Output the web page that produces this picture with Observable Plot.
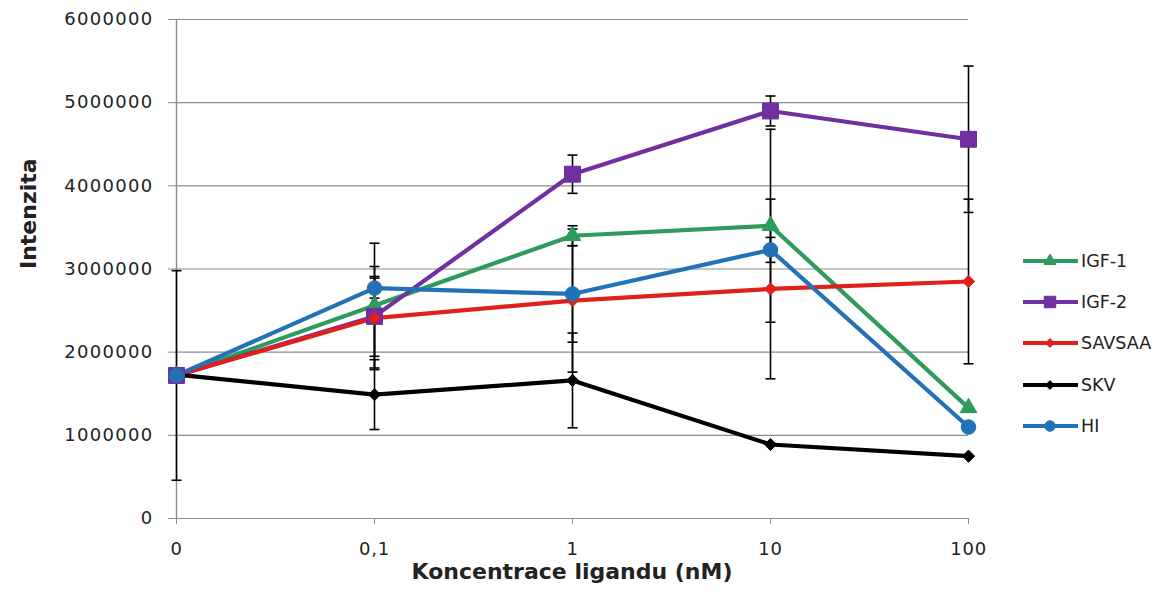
<!DOCTYPE html>
<html>
<head>
<meta charset="utf-8">
<script src="https://cdn.jsdelivr.net/npm/d3@7"></script>
<script src="https://cdn.jsdelivr.net/npm/@observablehq/plot@0.6"></script>
<style>
  html, body { margin: 0; padding: 0; background: #fff; }
  #wrap { position: relative; width: 1166px; height: 596px; overflow: hidden; }
  #legend { position: absolute; left: 1022px; top: 240px; font-family: "DejaVu Sans", sans-serif; font-size: 17.5px; color: #222; }
  .item { display: flex; align-items: center; height: 41.4px; }
  .item svg { display: block; margin-right: 1px; }
  g[aria-label="y-axis tick label"] text { letter-spacing: 1.3px; }
  g[aria-label="x-axis tick label"] text { letter-spacing: 0.8px; }
</style>
</head>
<body>
<div id="wrap"><div id="legend"></div></div>
<script>
const categories = ["0", "0,1", "1", "10", "100"];
const seriesNames = ["IGF-1", "IGF-2", "SAVSAA", "SKV", "HI"];
const seriesColors = ["#2e9b5c", "#7030a0", "#e0201b", "#000000", "#2372b8"];
const seriesSymbols = ["triangle", "square", "diamond2", "diamond2", "circle"];
const seriesR = [6.2, 9, 5.5, 5.5, 7.3];

const igf1 = [1720000, 2560000, 3400000, 3520000, 1330000];
const igf2 = [1720000, 2430000, 4140000, 4900000, 4560000];
const savsaa = [1720000, 2410000, 2620000, 2760000, 2850000];
const skv = [1730000, 1490000, 1660000, 890000, 750000];
const hi = [1720000, 2770000, 2700000, 3230000, 1100000];

const igf1Err = [0, 750000, 120000, 1160000, 0];
const igf2Err = [0, 480000, 230000, 180000, 880000];
const savsaaErr = [1260000, 620000, 860000, 1080000, 990000];
const skvErr = [0, 420000, 570000, 0, 0];
const hiErr = [0, 120000, 580000, 150000, 0];

const yTicks = [0, 1000000, 2000000, 3000000, 4000000, 5000000, 6000000];

const seriesValues = [igf1, igf2, savsaa, skv, hi];
const seriesErrs = [igf1Err, igf2Err, savsaaErr, skvErr, hiErr];

const rows = seriesNames.flatMap((name, s) =>
  categories.map((cat, i) => ({series: name, cat, value: seriesValues[s][i], err: seriesErrs[s][i]})));
const errRows = rows.filter(d => d.err > 0);
const caps = errRows.flatMap(d => [
  {cat: d.cat, y: d.value - d.err},
  {cat: d.cat, y: d.value + d.err}
]);

const capSymbol = {
  draw(ctx, size) {
    const w = Math.sqrt(size / Math.PI);
    ctx.moveTo(-w, 0);
    ctx.lineTo(w, 0);
  }
};

const font = "DejaVu Sans, sans-serif";

const chart = Plot.plot({
  width: 1166,
  height: 596,
  marginLeft: 175,
  marginRight: 198,
  marginTop: 19,
  marginBottom: 78,
  style: {fontFamily: font, fontSize: "18px", color: "#222", background: "transparent"},
  x: {type: "point", domain: categories, padding: 0, label: null},
  y: {domain: [0, 6000000], label: null},
  color: {domain: seriesNames, range: seriesColors},
  marks: [
    Plot.gridY(yTicks, {stroke: "#8c8c8c", strokeOpacity: 1, strokeWidth: 1.2}),
    Plot.ruleX([categories[0]], {stroke: "#8c8c8c", strokeWidth: 1.4}),
    Plot.axisY(yTicks, {tickSize: 7, tickPadding: 15, stroke: "#8c8c8c", tickFormat: d => String(d), fontSize: 18, fill: "#222", label: null}),
    Plot.axisX(categories, {tickSize: 6, tickPadding: 18, stroke: "#8c8c8c", fontSize: 18, fill: "#222", label: null}),
    Plot.line(rows, {x: "cat", y: "value", z: "series", stroke: "series", strokeWidth: 4.2, strokeLinejoin: "round"}),
    Plot.ruleX(errRows, {x: "cat", y1: d => d.value - d.err, y2: d => d.value + d.err, stroke: "#000", strokeWidth: 1.6}),
    Plot.dot(caps, {x: "cat", y: "y", symbol: capSymbol, r: 5, stroke: "#000", strokeWidth: 1.6}),
    ...seriesNames.map((name, s) =>
      Plot.dot(rows.filter(d => d.series === name), {
        x: "cat", y: "value", symbol: seriesSymbols[s], r: seriesR[s],
        fill: seriesColors[s], stroke: seriesColors[s], strokeWidth: 1
      })),
    Plot.text(["Intenzita"], {frameAnchor: "left", dx: -147, rotate: -90, fontWeight: "bold", fontSize: 22, fill: "#222"}),
    Plot.text(["Koncentrace ligandu (nM)"], {frameAnchor: "bottom", dy: 60, fontWeight: "bold", fontSize: 22, fill: "#222"})
  ]
});
document.getElementById("wrap").prepend(chart);

// Legend
const legend = d3.select("#legend");
seriesNames.forEach((name, s) => {
  const item = legend.append("div").attr("class", "item");
  const svg = item.append("svg").attr("width", 58).attr("height", 16);
  svg.append("line").attr("x1", 1).attr("x2", 56).attr("y1", 8).attr("y2", 8)
    .attr("stroke", seriesColors[s]).attr("stroke-width", 4.2);
  const sym = {triangle: d3.symbolTriangle, square: d3.symbolSquare, diamond2: d3.symbolDiamond2, circle: d3.symbolCircle}[seriesSymbols[s]];
  const r = seriesR[s] * 0.72;
  svg.append("path").attr("transform", "translate(28,8)")
    .attr("d", d3.symbol(sym, r * r * Math.PI)())
    .attr("fill", seriesColors[s]).attr("stroke", seriesColors[s]);
  item.append("span").text(name);
});
</script>
</body>
</html>
